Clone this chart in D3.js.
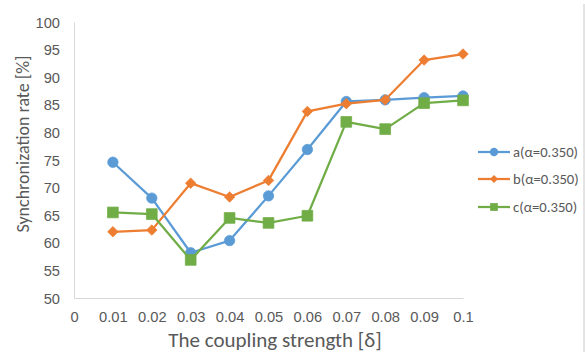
<!DOCTYPE html>
<html>
<head>
<meta charset="utf-8">
<script src="https://cdn.jsdelivr.net/npm/d3@7/dist/d3.min.js"></script>
<style>
  html, body { margin: 0; padding: 0; background: #fff; }
  svg { display: block; font-family: Calibri, Carlito, "Liberation Sans", "Open Sans", sans-serif; }
</style>
</head>
<body>
<svg id="chart" width="585" height="352"></svg>
<script>
// Coupling strength categories (0 has no measurement)
const xTicks = [0, 0.01, 0.02, 0.03, 0.04, 0.05, 0.06, 0.07, 0.08, 0.09, 0.1];
const xLabels = ["0", "0.01", "0.02", "0.03", "0.04", "0.05", "0.06", "0.07", "0.08", "0.09", "0.1"];
const strengths = [0.01, 0.02, 0.03, 0.04, 0.05, 0.06, 0.07, 0.08, 0.09, 0.1];
const seriesA = [74.6, 68.1, 58.2, 60.4, 68.5, 76.9, 85.6, 85.9, 86.3, 86.6];
const seriesB = [62.0, 62.3, 70.8, 68.3, 71.3, 83.8, 85.2, 85.9, 93.1, 94.2];
const seriesC = [65.5, 65.2, 56.9, 64.5, 63.6, 64.9, 81.9, 80.6, 85.3, 85.8];
const yTicks = [50, 55, 60, 65, 70, 75, 80, 85, 90, 95, 100];
const seriesNames = ["a(\u03b1=0.350)", "b(\u03b1=0.350)", "c(\u03b1=0.350)"];
const seriesColors = ["#5B9BD5", "#ED7D31", "#70AD47"];

// Square rotated 45 degrees, as a symbol type
const symbolRhomb = {
  draw(ctx, size) {
    const r = Math.sqrt(size / 2);
    ctx.moveTo(0, -r); ctx.lineTo(r, 0); ctx.lineTo(0, r); ctx.lineTo(-r, 0); ctx.closePath();
  }
};
const seriesShapes = [d3.symbolCircle, symbolRhomb, d3.symbolSquare];

const series = [seriesA, seriesB, seriesC].map((vals, i) => ({
  name: seriesNames[i], color: seriesColors[i], shape: seriesShapes[i],
  points: vals.map((v, j) => ({ x: strengths[j], y: v }))
}));

const svg = d3.select("#chart");
const plot = { left: 74, right: 463, top: 22, bottom: 298 };

const x = d3.scaleLinear().domain([0, 0.1]).range([plot.left, plot.right]);
const y = d3.scaleLinear().domain([50, 100]).range([plot.bottom, plot.top]);

// Thin frame line on the right edge
svg.append("line").attr("x1", 584).attr("x2", 584).attr("y1", 4).attr("y2", 352)
  .attr("stroke", "#c8c8c8").attr("stroke-width", 1);

// Y axis
const yAxis = svg.append("g").attr("transform", `translate(${plot.left},0)`)
  .call(d3.axisLeft(y).tickValues(yTicks).tickSize(0).tickPadding(14));
yAxis.select(".domain").attr("stroke", "#D9D9D9");
yAxis.selectAll("text").attr("fill", "#595959").attr("font-size", 14.7).attr("dy", "0.35em");

// X axis
const xAxis = svg.append("g").attr("transform", `translate(0,${plot.bottom})`)
  .call(d3.axisBottom(x).tickValues(xTicks).tickFormat((d, i) => xLabels[i]).tickSize(0));
xAxis.select(".domain").attr("stroke", "#D9D9D9");
xAxis.selectAll("text").attr("fill", "#595959").attr("font-size", 14.7)
  .attr("y", 24).attr("dy", 0);

// Axis titles
svg.append("text")
  .attr("transform", `translate(29,144) rotate(-90)`)
  .attr("text-anchor", "middle").attr("fill", "#595959").attr("font-size", 18)
  .text("Synchronization rate [%]");
svg.append("text")
  .attr("x", 275).attr("y", 347)
  .attr("text-anchor", "middle").attr("fill", "#595959").attr("font-size", 21)
  .text("The coupling strength [\u03b4]");

// Lines and markers
const line = d3.line().x(d => x(d.x)).y(d => y(d.y));
const markerSize = [85, 55, 115];

series.forEach((s, i) => {
  const g = svg.append("g");
  g.append("path").datum(s.points)
    .attr("d", line).attr("fill", "none").attr("stroke", s.color)
    .attr("stroke-width", 2.25).attr("stroke-linejoin", "round");
  g.selectAll("path.m").data(s.points).join("path").attr("class", "m")
    .attr("transform", d => `translate(${x(d.x)},${y(d.y)})`)
    .attr("d", d3.symbol().type(s.shape).size(markerSize[i]))
    .attr("fill", s.color).attr("stroke", s.color).attr("stroke-width", 0.75);
});

// Legend
const legend = svg.append("g");
const legendY = [152, 179, 207];
series.forEach((s, i) => {
  const gy = legendY[i];
  legend.append("line").attr("x1", 478).attr("x2", 510).attr("y1", gy).attr("y2", gy)
    .attr("stroke", s.color).attr("stroke-width", 2.25);
  legend.append("path").attr("transform", `translate(494,${gy})`)
    .attr("d", d3.symbol().type(s.shape).size([55, 32, 60][i]))
    .attr("fill", s.color);
  legend.append("text").attr("x", 513).attr("y", gy).attr("dy", "0.35em")
    .attr("fill", "#595959").attr("font-size", 14.7).text(s.name);
});
</script>
</body>
</html>
